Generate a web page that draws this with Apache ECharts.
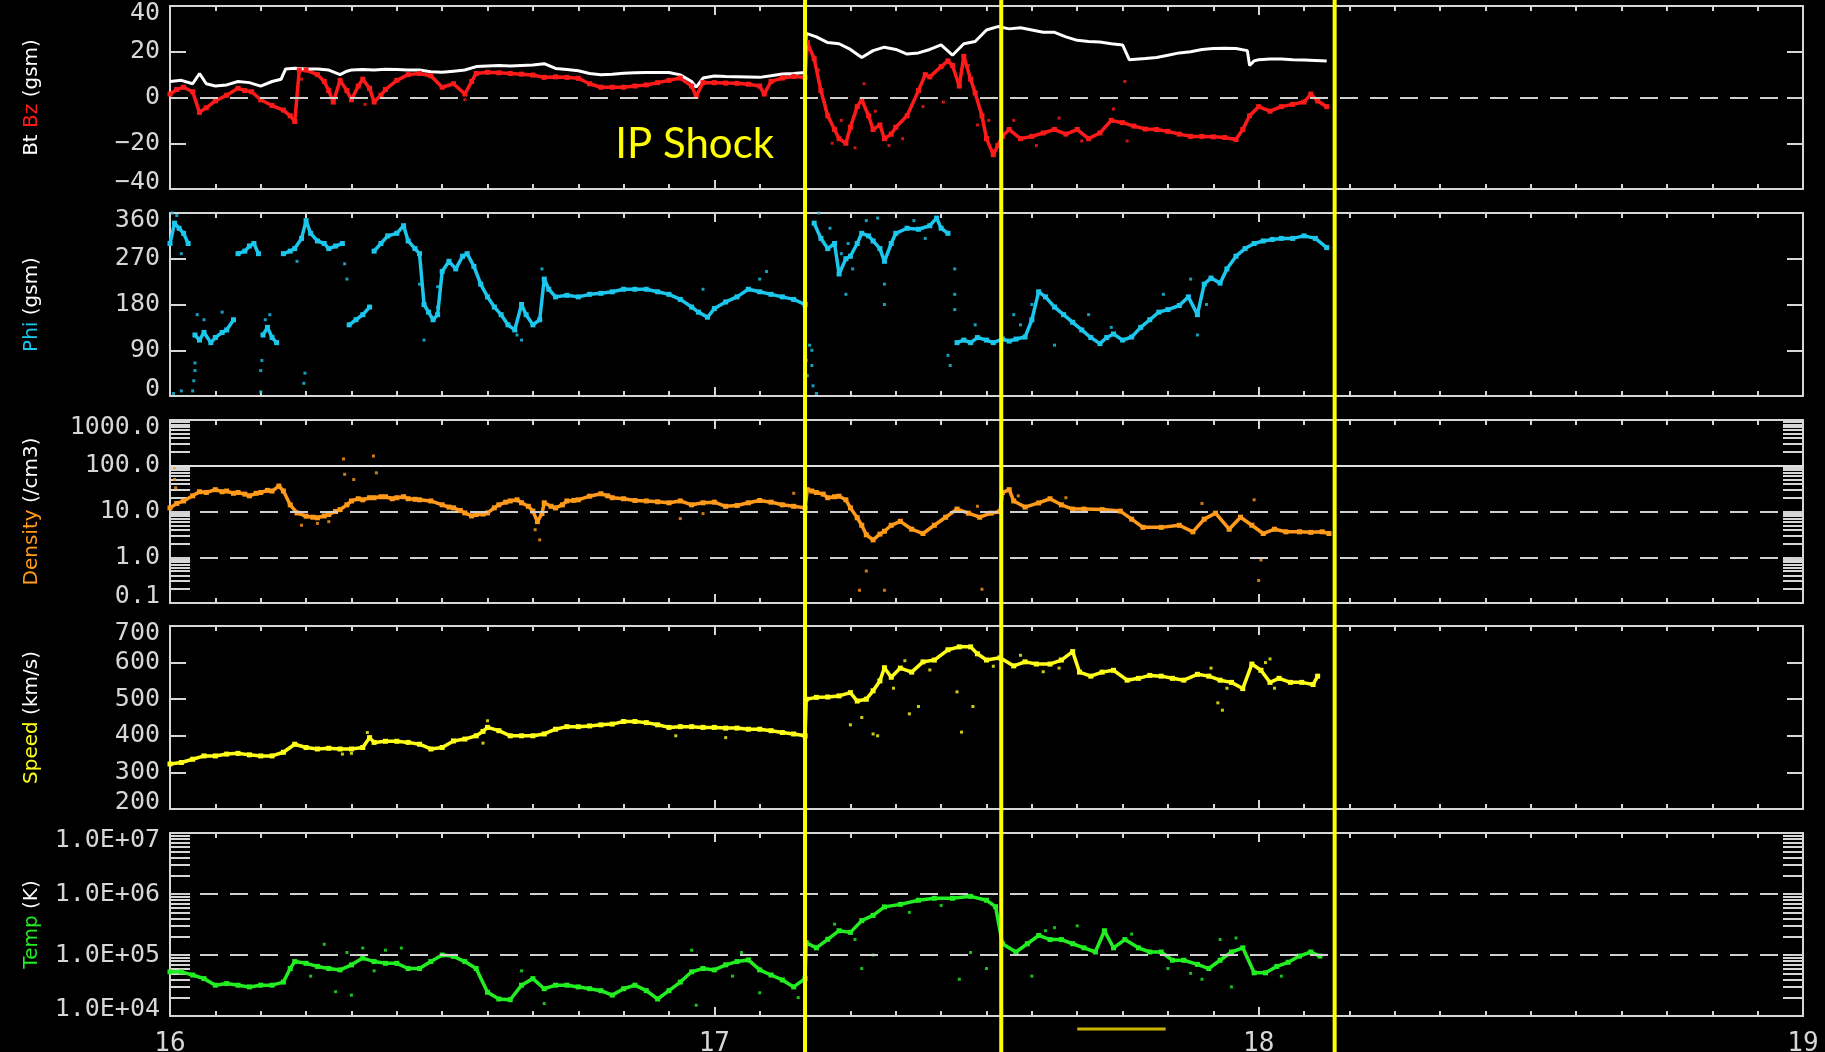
<!DOCTYPE html>
<html>
<head>
<meta charset="utf-8">
<title>Solar wind 16-18</title>
<script src="https://cdn.jsdelivr.net/npm/echarts@6/dist/echarts.min.js"></script>
<style>
  html, body { margin: 0; padding: 0; background: #000; }
  #chart { width: 1825px; height: 1052px; }
</style>
</head>
<body>
<div id="chart"></div>
<script>
// x values are hours counted from day 16, 00:00
var dayLabels = ['16', '17', '18', '19'];
var eventHours = [28.0, 36.65, 51.35];
var gapBarHours = [40, 43.9];

var bt = [[0,7],[0.5,7.5],[1,6],[1.3,10.5],[1.6,6],[2,5],[2.5,5.5],[3,7],[3.5,6.5],[4,5],[4.5,7],[4.9,8],[5.1,12.5],[5.5,12.8],[6,12.5],[6.5,12.5],[7,12],[7.5,10],[7.8,11.5],[8,12],[8.5,12.2],[9,12],[9.5,12.3],[10,12.2],[10.5,12],[11,12],[11.5,11.3],[12,11],[12.5,11.5],[13,12],[13.5,13.5],[14,13.8],[14.5,14],[15,13.8],[15.5,14],[16,14.2],[16.5,14.8],[17,12.7],[17.5,12.2],[18,11.7],[18.5,10.5],[19,9.9],[19.5,10.2],[20,10.6],[20.5,10.8],[21,10.9],[21.5,10.9],[22,10.9],[22.5,9.9],[23,7],[23.2,4.5],[23.5,8.5],[24,9.4],[24.5,9.2],[25,9.1],[25.5,9],[26,8.8],[26.5,9.5],[27,10.3],[27.5,10.5],[28,10.9],[28.05,28],[28.5,26.5],[29,24],[29.5,23.5],[30,21],[30.5,17.5],[31,20.5],[31.5,22],[32,21],[32.5,19],[33,19.5],[33.5,21],[34,23],[34.5,18.5],[35,23.5],[35.5,24.5],[36,29.5],[36.5,31],[37,30],[37.5,30.5],[38,29.5],[38.5,28.5],[39,28.5],[39.5,26.5],[40,25],[40.5,24.5],[41,24.3],[41.5,23.5],[42,23],[42.3,16.5],[43,17],[43.5,17.5],[44,18.5],[44.5,19.5],[45,20],[45.5,21],[46,21.4],[46.5,21.5],[47,21.4],[47.5,20.5],[47.6,14],[47.8,16],[48,16.5],[48.5,16.8],[49,16.8],[49.5,16.5],[50,16.4],[50.5,16.2],[51,16]];

var bz = [[0,1.5],[0.3,3.5],[0.6,4.5],[1,2.5],[1.3,-6.5],[1.6,-4.5],[2,-1.5],[2.5,1],[3,4],[3.3,3],[3.6,2.5],[4,-1],[4.5,-3.5],[5,-5.5],[5.3,-8],[5.5,-10.5],[5.7,12],[6,12],[6.5,10],[6.8,7],[7,3],[7.2,-2],[7.5,7.5],[7.8,3],[8,-1],[8.3,5],[8.5,8],[8.8,4],[9,-2],[9.3,1],[9.5,3.5],[10,7.5],[10.5,10],[11,10.5],[11.5,9.5],[12,4.5],[12.5,6],[13,1.5],[13.3,7],[13.5,10.5],[14,11],[14.5,10.8],[15,10.5],[15.5,10.2],[16,9.8],[16.5,8.8],[17,9],[17.5,8.8],[18,8.4],[18.5,6],[19,4.5],[19.5,4.5],[20,4.5],[20.5,5],[21,5.5],[21.5,6.5],[22,7.5],[22.5,8.5],[23,5],[23.2,0.5],[23.5,6.5],[24,6.5],[24.5,6.3],[25,6.2],[25.5,5.8],[26,5],[26.2,1.5],[26.5,7],[27,8.5],[27.5,9.2],[28,8.8],[28.1,24],[28.4,17],[28.7,3],[29,-8],[29.3,-14],[29.5,-18],[29.8,-20],[30,-13],[30.3,-4],[30.5,-1],[30.8,-8],[31,-14],[31.3,-12],[31.5,-18],[31.8,-16],[32,-13],[32.5,-8],[33,3],[33.3,10],[33.5,9],[34,13.5],[34.3,16],[34.5,14],[34.8,5],[35,18],[35.3,8],[35.5,2],[35.8,-8],[36,-18],[36.3,-25],[36.5,-21],[36.7,-17],[37,-14],[37.5,-18],[38,-17],[38.5,-15.5],[39,-14],[39.5,-16],[40,-14],[40.5,-18],[41,-15.5],[41.5,-10],[42,-11],[42.5,-12.5],[43,-13.8],[43.5,-14],[44,-14.8],[44.5,-16],[45,-17],[45.5,-17],[46,-17.2],[46.5,-17.5],[47,-18.4],[47.3,-14],[47.6,-8],[48,-4],[48.5,-6],[49,-4],[49.5,-3],[50,-2],[50.3,1.5],[50.6,-1.5],[51,-4]];
var bzDots = [[28.6,12],[28.9,-5],[29.2,-20],[29.6,-10],[30.2,-22],[30.6,6],[31.1,-6],[31.7,-21],[32.3,-18],[33.2,-4],[34.1,-2],[35.2,14],[35.6,-12],[36.1,-10],[37.2,-10],[38.2,-21],[39.2,-9],[40.2,-19],[41.6,-5],[42.1,7],[42.2,-19],[8.6,-3],[13,-1],[5.8,8]];

var phi = [[0,300],[0.2,340],[0.4,330],[0.6,320],[0.8,300],[0.95,null],[1.1,120],[1.3,110],[1.5,125],[1.8,105],[2,115],[2.3,125],[2.5,130],[2.8,150],[2.9,null],[3,280],[3.3,285],[3.5,295],[3.7,300],[3.9,280],[3.95,null],[4.1,120],[4.3,135],[4.5,115],[4.7,105],[4.8,null],[5,280],[5.3,285],[5.5,290],[5.8,310],[6,345],[6.2,320],[6.5,305],[6.8,300],[7,290],[7.3,295],[7.6,300],[7.7,null],[7.9,140],[8.2,150],[8.5,160],[8.8,175],[8.9,null],[9,285],[9.3,300],[9.6,315],[10,320],[10.3,335],[10.5,305],[10.8,290],[11,280],[11.2,180],[11.4,165],[11.6,150],[11.8,160],[12,245],[12.3,265],[12.6,250],[12.9,275],[13.1,280],[13.4,255],[13.7,220],[14,195],[14.3,175],[14.6,160],[14.9,140],[15.2,130],[15.5,180],[15.7,160],[16,140],[16.3,150],[16.5,230],[16.7,210],[17,195],[17.5,198],[18,195],[18.5,200],[19,202],[19.5,205],[20,210],[20.5,210],[21,210],[21.5,205],[22,200],[22.5,190],[23,175],[23.3,165],[23.7,155],[24,172],[24.5,185],[25,195],[25.5,210],[26,205],[26.5,200],[27,195],[27.5,190],[28,180],[28.05,null],[28.4,340],[28.7,310],[29,290],[29.3,300],[29.5,240],[29.8,270],[30,275],[30.3,300],[30.5,320],[30.8,315],[31,305],[31.3,290],[31.5,265],[31.8,300],[32,320],[32.5,330],[33,328],[33.5,335],[33.8,350],[34,330],[34.3,320],[34.5,null],[34.7,105],[35,110],[35.3,105],[35.6,115],[36,110],[36.3,105],[36.7,112],[37,108],[37.3,112],[37.7,116],[38,150],[38.3,205],[38.6,195],[39,175],[39.4,160],[39.8,145],[40.2,130],[40.6,115],[41,103],[41.3,115],[41.6,122],[42,110],[42.4,116],[42.8,135],[43.2,150],[43.6,165],[44,170],[44.5,178],[44.9,195],[45.3,160],[45.6,220],[45.9,232],[46.3,222],[46.6,250],[47,275],[47.4,290],[47.8,300],[48.2,305],[48.6,308],[49,310],[49.5,310],[50,315],[50.5,310],[51,292]];
var phiDots = [[0.1,360],[0.3,355],[0.5,280],[0.15,5],[0.5,10],[1.0,10],[1.05,30],[1.1,50],[1.1,65],[1.2,160],[1.5,150],[2.3,165],[4.0,8],[4.0,50],[4.05,70],[4.2,150],[4.4,160],[5.9,25],[5.95,45],[5.6,265],[7.8,230],[7.7,260],[11,220],[11.2,110],[11.8,215],[11.8,175],[15.3,120],[15.5,110],[16.4,250],[23.5,210],[26,230],[26.3,245],[28.05,70],[28.1,40],[28.2,100],[28.3,90],[28.35,20],[28.3,60],[28.5,5],[29.8,200],[31.5,180],[31.5,220],[34.6,250],[34.6,200],[34.6,170],[34.3,80],[34.4,60],[35.5,140],[37.2,160],[37.5,140],[38,180],[39,100],[40.5,160],[41.5,135],[43.8,200],[45,230],[45.3,120],[45.7,180],[29.1,330],[29.6,280],[30.1,250],[30.7,345],[31.2,350],[32.8,345],[33.3,310],[28.6,360],[29.9,300]];

var density = [[0,12],[0.3,15],[0.6,17],[1,22],[1.3,27],[1.6,26],[2,30],[2.3,27],[2.5,28],[2.8,25],[3,26],[3.3,24],[3.5,22],[3.8,25],[4,26],[4.3,29],[4.5,28],[4.8,36],[5,28],[5.3,14],[5.6,9.3],[6,7.9],[6.3,7.5],[6.5,7.3],[6.8,8],[7,8.6],[7.3,10],[7.5,11],[7.8,14],[8,17],[8.3,19],[8.5,18],[8.8,20],[9,20],[9.3,21],[9.5,21],[9.8,19],[10,20],[10.3,21],[10.5,19],[10.8,18.5],[11,18],[11.5,17],[12,14],[12.3,12.5],[12.5,12],[12.8,10.5],[13,9.3],[13.3,8],[13.5,8.6],[13.8,8.8],[14,9.3],[14.3,12],[14.5,14],[14.8,16],[15,17],[15.3,18],[15.5,15.5],[15.8,13],[16,10.2],[16.2,6],[16.4,9],[16.5,15.5],[16.8,13],[17,12],[17.3,14],[17.5,17],[17.8,17.5],[18,18],[18.5,21.6],[19,24.4],[19.3,22],[19.5,20],[20,19],[20.5,17.4],[21,17],[21.5,16.3],[22,15.5],[22.5,17],[23,14],[23.5,15.5],[24,16],[24.5,13],[25,13.5],[25.5,15.5],[26,17.4],[26.5,16],[27,14],[27.5,13],[28,12],[28.1,30],[28.3,28],[28.5,26],[28.8,24],[29,20],[29.3,21],[29.5,21.6],[29.8,18],[30,12],[30.3,7.3],[30.5,5],[30.7,3.1],[31,2.4],[31.3,3.2],[31.5,3.7],[31.8,5],[32.2,6.1],[32.7,4.1],[33.2,3.3],[33.7,5],[34.2,7.5],[34.7,11.3],[35.2,9.2],[35.7,7.5],[36.2,9.2],[36.6,10],[36.7,26],[37,30],[37.2,17],[37.7,12.5],[38.3,15.4],[38.8,19],[39.3,14],[39.8,11.3],[40.3,11.3],[41.1,11],[41.9,10.2],[42.4,6.8],[42.9,4.5],[43.7,4.5],[44.5,5],[45.1,3.6],[45.6,6.8],[46.1,9.2],[46.7,4.1],[47.2,7.5],[47.7,5],[48.2,3.3],[48.7,4.1],[49.2,3.6],[49.8,3.6],[50.3,3.5],[50.8,3.6],[51.1,3.3]];
var densityDots = [[0.2,91],[0.2,50],[0.25,33],[7.65,141],[8.97,163],[7.7,65],[8.1,50],[9.1,70],[5.8,5],[6.5,5.5],[7,6],[16.3,2.4],[16.1,4],[22.5,7],[23.5,9],[27.5,25],[30.7,0.5],[30.4,0.19],[31.5,0.19],[35.8,0.2],[48,0.31],[48.1,0.87],[45.5,15],[47.8,18],[35.6,13],[37.4,22],[39.5,20]];

var speed = [[0,323],[0.5,327],[1,336],[1.5,345],[2,345],[2.5,350],[3,352],[3.5,348],[4,345],[4.5,345],[5,355],[5.5,377],[6,368],[6.5,364],[7,366],[7.5,364],[8,364],[8.5,368],[8.8,395],[9,382],[9.5,385],[10,385],[10.5,382],[11,377],[11.5,364],[12,368],[12.5,386],[13,391],[13.5,400],[13.8,412],[14,423],[14.5,414],[15,400],[15.5,400],[16,400],[16.5,405],[17,418],[17.5,425],[18,425],[18.5,427],[19,430],[19.5,432],[20,439],[20.5,439],[21,436],[21.5,430],[22,423],[22.5,425],[23,425],[23.5,423],[24,423],[24.5,421],[25,421],[25.5,418],[26,418],[26.5,414],[27,409],[27.5,405],[28,400],[28.05,500],[28.5,505],[29,506],[29.5,509],[30,518],[30.3,495],[30.7,500],[31,523],[31.3,550],[31.5,586],[31.8,560],[32.2,585],[32.7,574],[33.2,602],[33.7,607],[34.3,635],[34.8,643],[35.3,643],[35.6,624],[36,607],[36.6,613],[37.2,591],[37.7,602],[38.2,596],[38.8,596],[39.3,607],[39.8,630],[40.1,574],[40.6,563],[41.1,574],[41.6,579],[42.2,552],[42.7,557],[43.2,565],[43.7,563],[44.2,557],[44.7,552],[45.3,568],[45.8,563],[46.3,552],[46.8,546],[47.3,529],[47.7,596],[48.1,579],[48.5,546],[48.9,557],[49.4,546],[49.9,546],[50.4,540],[50.6,563]];
var speedDots = [[8.7,409],[14,441],[13.8,380],[30.5,450],[30,430],[31,405],[31.2,400],[34.7,520],[35.4,480],[34.9,410],[33,480],[32.6,460],[46.2,490],[46.4,470],[48.3,600],[48.5,610],[8,352],[7.6,350],[22.3,400],[24.5,395],[31.9,530],[32.4,605],[33.5,580],[36.3,590],[37.5,620],[38.5,575],[39.2,585],[45.9,585],[46.6,530],[48.7,530]];

var temp = [[0,53000],[0.5,53000],[1,47000],[1.5,41000],[2,32000],[2.5,34000],[3,32000],[3.5,30000],[4,32000],[4.5,32000],[5,36000],[5.3,60000],[5.5,78000],[6,73000],[6.5,65000],[7,60000],[7.5,57000],[8,69000],[8.5,89000],[9,78000],[9.5,73000],[10,73000],[10.5,60000],[11,60000],[11.5,78000],[12,100000],[12.5,95000],[13,78000],[13.5,60000],[14,24500],[14.5,19000],[15,18500],[15.5,32000],[16,41000],[16.5,28000],[17,32000],[17.5,32000],[18,30000],[18.5,28000],[19,26000],[19.5,22000],[20,28000],[20.5,32000],[21,26000],[21.5,19000],[22,26000],[22.5,36000],[23,53000],[23.5,60000],[24,57000],[24.5,69000],[25,78000],[25.5,83000],[26,57000],[26.5,47000],[27,39000],[27.5,30000],[28,41000],[28.05,159000],[28.5,131000],[29,181000],[29.5,250000],[30,235000],[30.5,366000],[31,446000],[31.5,615000],[32.2,676000],[33,790000],[33.7,850000],[34.5,850000],[35.3,915000],[36,790000],[36.4,620000],[36.7,153000],[37.3,112000],[37.8,153000],[38.3,209000],[38.8,179000],[39.3,179000],[39.8,153000],[40.3,131000],[40.8,112000],[41.2,250000],[41.6,131000],[42.1,179000],[42.7,131000],[43.2,112000],[43.7,112000],[44.2,82000],[44.7,82000],[45.3,70000],[45.8,60000],[46.3,82000],[46.8,112000],[47.3,131000],[47.8,51000],[48.3,51000],[48.8,65000],[49.3,76000],[49.8,96000],[50.3,112000],[50.7,96000]];
var tempDots = [[6.8,150000],[8.5,130000],[7.3,25000],[8,22000],[9.5,120000],[10.2,130000],[23,120000],[26,24000],[27.7,20000],[23.2,15000],[31,100000],[30.5,60000],[35.3,110000],[34.8,40000],[36,60000],[38,45000],[40,300000],[39,280000],[45.5,40000],[46.3,180000],[47,190000],[46.8,30000],[15.5,55000],[16.5,16000],[6.2,45000],[7.8,110000],[9,55000],[24.8,45000],[25.2,110000],[29.3,320000],[30.2,180000],[32.6,500000],[34,650000],[38.6,250000],[42.4,220000],[44,60000],[45,50000],[47.5,90000],[49,45000]];

var densityLabels = ['0.1', '1.0', '10.0', '100.0', '1000.0'];
var tempLabels = ['1.0E+04', '1.0E+05', '1.0E+06', '1.0E+07'];

var frame = '#d6d6d6';
var tickFont = 'DejaVu Sans Mono';
var gridTops = [6, 213, 420, 626, 833];

function logTicks(lo, hi) {
  var out = [];
  for (var d = lo; d < hi; d *= 10) {
    for (var k = 1; k < 10; k++) out.push(+(d * k).toPrecision(3));
  }
  out.push(hi);
  return out;
}

function xAxisFor(i, pos) {
  return {
    type: 'value', gridIndex: i, position: pos, min: 0, max: 72, interval: 24,
    axisLine: {show: true, onZero: false, lineStyle: {color: frame, width: 2}},
    axisTick: {show: true, inside: true, length: 9, lineStyle: {color: frame, width: 2}},
    minorTick: {show: true, splitNumber: 12, length: 5, lineStyle: {color: frame, width: 2}},
    splitLine: {show: false},
    minorSplitLine: {show: false},
    axisLabel: {
      show: i === 4 && pos === 'bottom', margin: 15, color: frame,
      fontFamily: tickFont, fontSize: 26, showMinLabel: true, showMaxLabel: true,
      formatter: function (v) { return dayLabels[Math.round(v / 24)]; }
    }
  };
}

var panels = [
  {type: 'value', min: -40, max: 40, interval: 20, tickLen: 16,
    fmt: function (v) { return v < 0 ? '\u2212' + (-v) : String(v); },
    name: '{w|Bt} {r|Bz} {w|(gsm)}'},
  {type: 'value', min: 0, max: 360, interval: 90, tickLen: 16,
    fmt: function (v) { return String(v); },
    name: '{c|Phi} {w|(gsm)}'},
  {type: 'log', min: 0.1, max: 1000, tickLen: 20, ticks: logTicks(0.1, 1000),
    fmt: function (v) { return densityLabels[Math.round(Math.log10(v)) + 1]; },
    name: '{o|Density} {w|(/cm3)}'},
  {type: 'value', min: 200, max: 700, interval: 100, tickLen: 16,
    fmt: function (v) { return String(v); },
    name: '{y|Speed} {w|(km/s)}'},
  {type: 'log', min: 1e4, max: 1e7, tickLen: 20, ticks: logTicks(1e4, 1e7),
    fmt: function (v) { return tempLabels[Math.round(Math.log10(v)) - 4]; },
    name: '{g|Temp} {w|(K)}'}
];

var rich = {};
var nameColors = {w: '#ffffff', r: '#ff1a1a', c: '#1cc6ec', o: '#ff9a1a', y: '#ffff1a', g: '#22ee22'};
Object.keys(nameColors).forEach(function (k) {
  rich[k] = {color: nameColors[k], fontFamily: 'DejaVu Sans', fontSize: 20};
});

function yAxisFor(i, pos) {
  var p = panels[i];
  var ax = {
    type: p.type, gridIndex: i, position: pos, min: p.min, max: p.max,
    axisLine: {show: true, onZero: false, lineStyle: {color: frame, width: 2}},
    axisTick: {show: true, inside: true, length: p.tickLen, lineStyle: {color: frame, width: 2}},
    splitLine: {show: false},
    axisLabel: {
      show: pos === 'left', margin: 10, color: frame,
      fontFamily: tickFont, fontSize: 25, lineHeight: 14, formatter: p.fmt,
      showMinLabel: true, showMaxLabel: true, hideOverlap: false,
      verticalAlignMaxLabel: 'top', verticalAlignMinLabel: 'bottom'
    }
  };
  if (p.interval) ax.interval = p.interval;
  if (p.type === 'log') {
    ax.logBase = 10;
    ax.axisTick.customValues = p.ticks;
  }
  if (pos === 'left') {
    ax.name = p.name;
    ax.nameLocation = 'middle';
    ax.nameRotate = 90;
    ax.nameGap = 128;
    ax.nameTextStyle = {rich: rich, fontFamily: 'DejaVu Sans', fontSize: 20};
  }
  return ax;
}

var dashed = {color: '#d0d0d0', width: 2, type: [18, 12]};
function guides(vals, solidVals) {
  var data = vals.map(function (v) { return {yAxis: v}; });
  (solidVals || []).forEach(function (v) {
    data.push({yAxis: v, lineStyle: {type: 'solid', color: '#e0e0e0', width: 2}});
  });
  return {silent: true, symbol: 'none', label: {show: false}, lineStyle: dashed, data: data};
}

function lineSeries(name, i, data, color, width, mark) {
  var s = {
    name: name, type: 'line', xAxisIndex: i * 2, yAxisIndex: i * 2, data: data,
    showSymbol: width > 3, symbol: 'rect', symbolSize: 5, connectNulls: false,
    color: color, itemStyle: {color: color},
    lineStyle: {color: color, width: width}, z: 3
  };
  if (mark) s.markLine = mark;
  return s;
}

function dotSeries(name, i, data, color) {
  return {
    name: name, type: 'scatter', xAxisIndex: i * 2, yAxisIndex: i * 2, data: data,
    symbol: 'rect', symbolSize: 3, itemStyle: {color: color}, z: 3
  };
}

var xAxes = [], yAxes = [], grids = [];
for (var i = 0; i < 5; i++) {
  grids.push({left: 170, width: 1633, top: gridTops[i], height: 183,
    containLabel: false, outerBoundsMode: 'none'});
  xAxes.push(xAxisFor(i, 'bottom'), xAxisFor(i, 'top'));
  yAxes.push(yAxisFor(i, 'left'), yAxisFor(i, 'right'));
}

var chart = echarts.init(document.getElementById('chart'), null, {renderer: 'canvas'});

var option = {
  backgroundColor: '#000000',
  animation: false,
  grid: grids,
  xAxis: xAxes,
  yAxis: yAxes,
  series: [
    lineSeries('Bz', 0, bz, '#ff1a1a', 3.5, guides([0])),
    dotSeries('Bz dots', 0, bzDots, '#ff1a1a'),
    lineSeries('Bt', 0, bt, '#ffffff', 3),
    lineSeries('Phi', 1, phi, '#1cc6ec', 3.5),
    dotSeries('Phi dots', 1, phiDots, '#1cc6ec'),
    lineSeries('Density', 2, density, '#ff9a1a', 3.5, guides([10, 1], [100])),
    dotSeries('Density dots', 2, densityDots, '#ff9a1a'),
    lineSeries('Speed', 3, speed, '#ffff1a', 3.5),
    dotSeries('Speed dots', 3, speedDots, '#ffff1a'),
    lineSeries('Temp', 4, temp, '#22ee22', 3.5, guides([1e6, 1e5])),
    dotSeries('Temp dots', 4, tempDots, '#22ee22')
  ]
};

chart.setOption(option);

// event markers through the axis scale, spanning the whole picture
var elements = eventHours.map(function (h) {
  var x = chart.convertToPixel({xAxisIndex: 0}, h);
  return {
    type: 'line', z: 100, silent: true,
    shape: {x1: x, y1: 0, x2: x, y2: 1052},
    style: {stroke: '#ffff00', lineWidth: 4}
  };
});
var shockX = chart.convertToPixel({xAxisIndex: 0}, eventHours[0]);
elements.push({
  type: 'text', z: 100, silent: true, x: shockX - 31, y: 144,
  style: {text: 'IP Shock', fill: '#ffff00', font: '42px Lato', align: 'right', verticalAlign: 'middle'}
});
var g0 = chart.convertToPixel({xAxisIndex: 8}, gapBarHours[0]);
var g1 = chart.convertToPixel({xAxisIndex: 8}, gapBarHours[1]);
elements.push({
  type: 'line', z: 100, silent: true,
  shape: {x1: g0, y1: 1029, x2: g1, y2: 1029},
  style: {stroke: '#c8b400', lineWidth: 3}
});
chart.setOption({graphic: {elements: elements}});
</script>
</body>
</html>
